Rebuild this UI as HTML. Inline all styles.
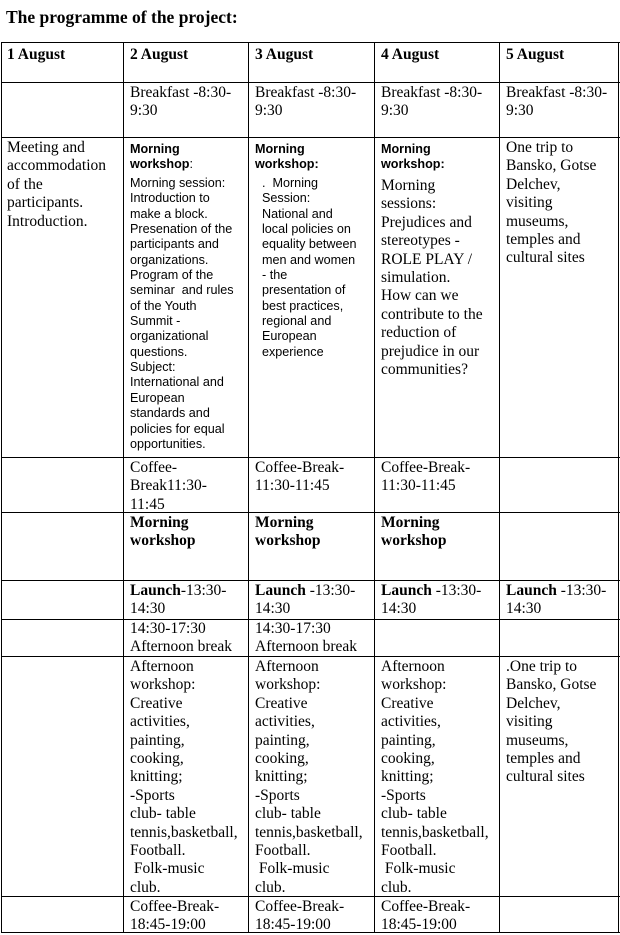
<!DOCTYPE html>
<html><head><meta charset="utf-8"><style>
body{margin:0;width:620px;height:933px;background:#fff;position:relative;overflow:hidden;font-family:"Liberation Serif",serif;color:#000}
.h{position:absolute;left:1px;width:619px;height:1px;background:#000}
.v{position:absolute;top:42px;width:1px;height:891px;background:#000}
.c{position:absolute;white-space:pre;font-size:15.5px;line-height:18.4px;margin-top:2px}
.s{font-family:"Liberation Sans",sans-serif;font-size:12.6px;line-height:15.35px;margin-top:0}
b{font-weight:bold}
</style></head><body>
<div class="c" style="left:6px;top:6px;font-size:17.5px;font-weight:bold">The programme of the project:</div>
<div class="h" style="top:42px"></div><div class="h" style="top:82px"></div><div class="h" style="top:137px"></div>
<div class="h" style="top:457px"></div><div class="h" style="top:512px"></div><div class="h" style="top:580px"></div>
<div class="h" style="top:619px"></div><div class="h" style="top:656px"></div><div class="h" style="top:896px"></div>
<div class="h" style="top:932px"></div>
<div class="v" style="left:1px"></div><div class="v" style="left:123px"></div><div class="v" style="left:248px"></div>
<div class="v" style="left:374px"></div><div class="v" style="left:499px"></div><div class="v" style="left:618px"></div>

<div class="c" style="left:7px;top:44px"><b>1 August</b></div>
<div class="c" style="left:130px;top:44px"><b>2 August</b></div>
<div class="c" style="left:255px;top:44px"><b>3 August</b></div>
<div class="c" style="left:381px;top:44px"><b>4 August</b></div>
<div class="c" style="left:506px;top:44px"><b>5 August</b></div>

<div class="c" style="left:130px;top:82px">Breakfast -8:30-
9:30</div>
<div class="c" style="left:255px;top:82px">Breakfast -8:30-
9:30</div>
<div class="c" style="left:381px;top:82px">Breakfast -8:30-
9:30</div>
<div class="c" style="left:506px;top:82px">Breakfast -8:30-
9:30</div>

<div class="c" style="left:7px;top:137px">Meeting and
accommodation
of the
participants.
Introduction.</div>
<div class="c s" style="left:130px;top:142px"><b>Morning
workshop</b>:</div>
<div class="c s" style="left:130px;top:176px">Morning session:
Introduction to
make a block.
Presenation of the
participants and
organizations.
Program of the
seminar  and rules
of the Youth
Summit -
organizational
questions.
Subject:
International and
European
standards and
policies for equal
opportunities.</div>
<div class="c s" style="left:255px;top:142px"><b>Morning
workshop:</b></div>
<div class="c s" style="left:262px;top:176px">.  Morning
Session:
National and
local policies on
equality between
men and women
- the
presentation of
best practices,
regional and
European
experience</div>
<div class="c s" style="left:381px;top:142px"><b>Morning
workshop:</b></div>
<div class="c" style="left:381px;top:175px">Morning
sessions:
Prejudices and
stereotypes -
ROLE PLAY /
simulation.
How can we
contribute to the
reduction of
prejudice in our
communities?</div>
<div class="c" style="left:506px;top:137px">One trip to
Bansko, Gotse
Delchev,
visiting
museums,
temples and
cultural sites</div>

<div class="c" style="left:130px;top:457px">Coffee-
Break11:30-
11:45</div>
<div class="c" style="left:255px;top:457px">Coffee-Break-
11:30-11:45</div>
<div class="c" style="left:381px;top:457px">Coffee-Break-
11:30-11:45</div>

<div class="c" style="left:130px;top:512px"><b>Morning
workshop</b></div>
<div class="c" style="left:255px;top:512px"><b>Morning
workshop</b></div>
<div class="c" style="left:381px;top:512px"><b>Morning
workshop</b></div>

<div class="c" style="left:130px;top:580px"><b>Launch</b>-13:30-
14:30</div>
<div class="c" style="left:255px;top:580px"><b>Launch</b> -13:30-
14:30</div>
<div class="c" style="left:381px;top:580px"><b>Launch</b> -13:30-
14:30</div>
<div class="c" style="left:506px;top:580px"><b>Launch</b> -13:30-
14:30</div>

<div class="c" style="left:130px;top:618px">14:30-17:30
Afternoon break</div>
<div class="c" style="left:255px;top:618px">14:30-17:30
Afternoon break</div>

<div class="c" style="left:130px;top:656px">Afternoon
workshop:
Creative
activities,
painting,
cooking,
knitting;
-Sports
club- table
tennis,basketball,
Football.
 Folk-music
club.</div>
<div class="c" style="left:255px;top:656px">Afternoon
workshop:
Creative
activities,
painting,
cooking,
knitting;
-Sports
club- table
tennis,basketball,
Football.
 Folk-music
club.</div>
<div class="c" style="left:381px;top:656px">Afternoon
workshop:
Creative
activities,
painting,
cooking,
knitting;
-Sports
club- table
tennis,basketball,
Football.
 Folk-music
club.</div>
<div class="c" style="left:506px;top:656px">.One trip to
Bansko, Gotse
Delchev,
visiting
museums,
temples and
cultural sites</div>

<div class="c" style="left:130px;top:896px">Coffee-Break-
18:45-19:00</div>
<div class="c" style="left:255px;top:896px">Coffee-Break-
18:45-19:00</div>
<div class="c" style="left:381px;top:896px">Coffee-Break-
18:45-19:00</div>
</body></html>
